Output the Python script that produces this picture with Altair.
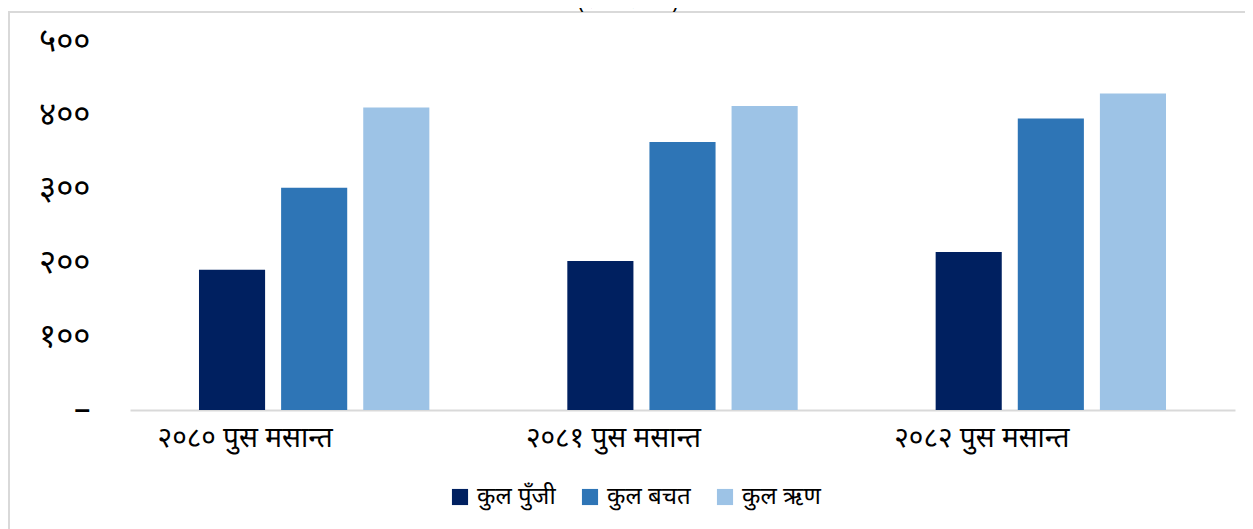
import altair as alt
import pandas as pd

categories = ["२०८० पुस मसान्त", "२०८१ पुस मसान्त", "२०८२ पुस मसान्त"]
series = ["कुल पुँजी", "कुल बचत", "कुल ऋण"]
values = {
    "कुल पुँजी": [190, 202, 214],
    "कुल बचत": [301, 363, 395],
    "कुल ऋण": [410, 412, 429],
}
colors = ["#002060", "#2E75B6", "#9DC3E6"]
tick_values = [0, 100, 200, 300, 400, 500]
tick_labels = ["–", "१००", "२००", "३००", "४००", "५००"]
title_text = "(रु. करोडमा)"

rows = []
for s in series:
    for c, v in zip(categories, values[s]):
        rows.append({"category": c, "series": s, "value": v})
df = pd.DataFrame(rows)

label_expr = "".join(
    f"datum.value == {v} ? '{l}' : " for v, l in zip(tick_values, tick_labels)
) + "datum.label"

FONT = "Noto Sans Devanagari, Noto Sans, sans-serif"

bars = alt.Chart(df).mark_bar().encode(
    x=alt.X("category:N", sort=categories,
            scale=alt.Scale(paddingInner=0, paddingOuter=0),
            axis=alt.Axis(title=None, labelAngle=0, ticks=False, domainColor="#d9d9d9",
                          domainWidth=2, labelFontSize=28, labelColor="#000000",
                          labelPadding=14, labelOffset=-69, labelFont=FONT,
                          labelFontWeight="normal")),
    xOffset=alt.XOffset("series:N", sort=series,
                        scale=alt.Scale(paddingInner=0.195, paddingOuter=0.84)),
    y=alt.Y("value:Q", scale=alt.Scale(domain=[0, 500], nice=False),
            axis=alt.Axis(title=None, values=tick_values, labelExpr=label_expr,
                          domain=False, ticks=False, grid=False, labelFontSize=33,
                          labelColor="#000000", labelPadding=40, labelFont=FONT,
                          labelFontWeight="normal")),
    color=alt.Color("series:N", sort=series,
                    scale=alt.Scale(domain=series, range=colors),
                    legend=alt.Legend(title=None, orient="none", direction="horizontal",
                                      legendX=318, legendY=444, symbolType="square",
                                      symbolSize=260, symbolStrokeWidth=0,
                                      labelFontSize=24, labelColor="#000000",
                                      labelFont=FONT, columnPadding=22, labelOffset=5,
                                      labelFontWeight="normal")),
)

one = pd.DataFrame({"a": [0]})
top_border = alt.Chart(one).mark_rule(color="#d9d9d9", strokeWidth=2).encode(
    x=alt.value(-122), x2=alt.value(1115), y=alt.value(-29))
left_border = alt.Chart(one).mark_rule(color="#d9d9d9", strokeWidth=2).encode(
    x=alt.value(-121), y=alt.value(-29), y2=alt.value(490))
title = alt.Chart(one).mark_text(fontSize=22, font=FONT, baseline="bottom",
                                 align="center", color="#000000").encode(
    x=alt.value(498), y=alt.value(-28), text=alt.value(title_text))

chart = alt.layer(top_border, left_border, bars, title).properties(
    width=1105, height=369,
    autosize=alt.AutoSizeParams(type="none"),
    padding={"left": 122, "top": 33, "right": 10, "bottom": 119},
    background="#ffffff",
).configure_view(stroke=None)

chart.save("out.html", embed_options={"renderer": "svg", "actions": False})
